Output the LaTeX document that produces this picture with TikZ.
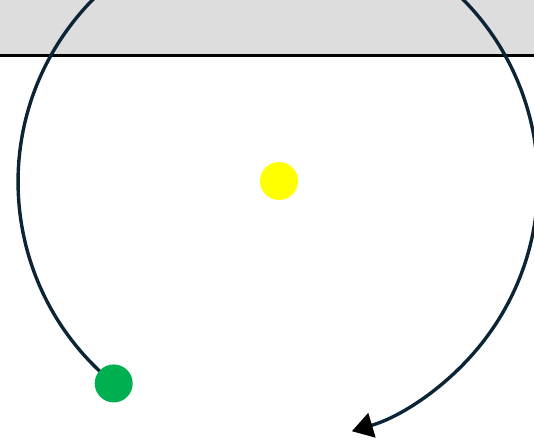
\documentclass[tikz,border=0pt]{standalone}
\usetikzlibrary{arrows.meta}
\definecolor{sky-gray}{HTML}{DDDDDD}
\definecolor{orbit-navy}{HTML}{0C2536}
\definecolor{planet-green}{HTML}{00B050}
\definecolor{sun-yellow}{HTML}{FFFF00}
\begin{document}
\begin{tikzpicture}[x=0.02cm, y=0.02cm,
    dot/.style={circle, inner sep=0pt, minimum size=0.76cm}]
      \clip (0,0) rectangle (534,443);
      \fill[sky-gray] (0,388) rectangle (534,443);
      \draw[line width=0.06cm] (0,387.5) -- (534,387.5);
      \coordinate (c) at (278,261);
      \coordinate (p0) at ([shift={(230.8:5.2cm)}]c);
      \draw[orbit-navy, line width=0.068cm,
        -{Triangle[length=0.42cm, width=0.5cm, color=black]}]
        (p0) arc[start angle=230.8, end angle=-73.5, radius=5.2cm]
        coordinate (tip);
      \node[dot, fill=sun-yellow] (sun) at (279,262) {};
      \node[dot, fill=planet-green] (planet) at (p0) {};
    \end{tikzpicture}
\end{document}
